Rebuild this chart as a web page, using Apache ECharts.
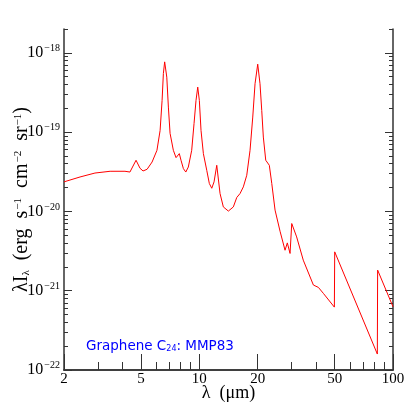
<!DOCTYPE html>
<html>
<head>
<meta charset="utf-8">
<script src="https://cdn.jsdelivr.net/npm/echarts@6/dist/echarts.min.js"></script>
<style>
	html, body { margin: 0; padding: 0; background: #fff; }
	#chart { width: 415px; height: 415px; }
</style>
</head>
<body>
<div id="chart"></div>
<script>
// wavelength (um) and lambda*I_lambda (erg s-1 cm-2 sr-1)
const wavelength = [2.0, 2.42, 2.89, 3.46, 4.13, 4.38, 4.71, 4.94, 5.12, 5.37, 5.70, 6.04, 6.27, 6.42, 6.52, 6.62, 6.79, 6.92, 7.06, 7.34,
	7.58, 7.70, 7.88, 8.04, 8.27, 8.51, 8.77, 9.13, 9.39, 9.61, 9.81, 10.0, 10.2, 10.49, 10.92, 11.26, 11.59, 11.91, 12.30, 12.79,
	13.30, 14.12, 14.98, 15.60, 16.22, 16.87, 17.57, 18.27, 18.87, 19.39, 20.02, 20.57, 21.0, 21.4, 22.02, 22.44, 22.98, 23.66, 24.6, 26.1,
	27.7, 28.46, 29.4, 30.0, 31.8, 34.4, 38.8, 41.2, 43.7, 49.8, 50.0, 83.0, 83.3, 100];
const flux = [2.36e-20, 2.72e-20, 3.05e-20, 3.21e-20, 3.21e-20, 3.14e-20, 4.42e-20, 3.50e-20, 3.24e-20, 3.40e-20, 4.20e-20, 5.90e-20, 1.05e-19, 2.51e-19, 5.5e-19, 7.7e-19, 4.94e-19, 2.07e-19, 9.66e-20, 5.90e-20,
	4.77e-20, 4.96e-20, 5.36e-20, 4.42e-20, 3.47e-20, 3.14e-20, 3.63e-20, 5.90e-20, 1.29e-19, 2.51e-19, 3.70e-19, 2.51e-19, 1.05e-19, 5.36e-20, 3.30e-20, 2.25e-20, 1.96e-20, 2.36e-20, 3.82e-20, 1.68e-20,
	1.14e-20, 1.01e-20, 1.14e-20, 1.50e-20, 1.68e-20, 2.04e-20, 2.86e-20, 5.90e-20, 1.55e-19, 4.08e-19, 7.2e-19, 4.08e-19, 1.88e-19, 8.67e-20, 4.42e-20, 4.6e-20, 3.82e-20, 2.25e-20, 1.04e-20, 5.63e-21,
	3.24e-21, 4.01e-21, 2.95e-21, 7.04e-21, 4.77e-21, 2.43e-21, 1.18e-21, 1.10e-21, 9.25e-22, 6.21e-22, 3.09e-21, 1.59e-22, 1.82e-21, 6.27e-22];

const xLabels = [2, 5, 10, 20, 50, 100];
const xMinor = [2, 3, 4, 5, 6, 7, 8, 9, 10, 20, 30, 40, 50, 60, 70, 80, 90, 100];
const yLabels = [1e-22, 1e-21, 1e-20, 1e-19, 1e-18];
const yMinor = [];
[-22, -21, -20, -19, -18].forEach(function (e) {
	for (let m = 1; m <= 9; m++) {
		let v = m * Math.pow(10, e);
		if (v <= 2e-18) yMinor.push(v);
	}
});

const serif = "Liberation Serif";
const axisColor = "#333";

// frame line (+ optional labels), no ticks
function frameAxis(pos, min, max, label) {
	return {
		type: "log",
		position: pos,
		min: min,
		max: max,
		axisLine: { show: true, lineStyle: { color: axisColor, width: 1.5 } },
		axisTick: { show: false },
		axisLabel: label || { show: false },
		splitLine: { show: false }
	};
}
// tick-only axis, shifted into the plot so outward ticks end on the frame
function tickAxis(pos, min, max, ticks, len) {
	return {
		type: "log",
		position: pos,
		offset: -len,
		min: min,
		max: max,
		axisLine: { show: false },
		axisTick: { show: true, inside: false, length: len, customValues: ticks, lineStyle: { color: axisColor, width: 1 } },
		axisLabel: { show: false },
		splitLine: { show: false }
	};
}

const xLabelStyle = { show: true, customValues: xLabels, color: "#000", fontFamily: serif, fontSize: 15, margin: 2 };
const yLabelStyle = {
	show: true,
	customValues: yLabels,
	margin: 4,
	formatter: function (v) {
		return "{b|10}{s|\u2212" + Math.abs(Math.round(Math.log10(v))) + "}";
	},
	rich: {
		b: { fontFamily: serif, fontSize: 16, color: "#000" },
		s: { fontFamily: serif, fontSize: 10, color: "#000", padding: [0, 0, 9, 1] }
	}
};

const chart = echarts.init(document.getElementById("chart"));
const option = {
	animation: false,
	backgroundColor: "#fff",
	title: {
		text: "{t|Graphene C}{sub|24}{t|: MMP83}",
		left: 81,
		top: 334,
		textStyle: {
			rich: {
				t: { fontFamily: "DejaVu Sans", fontSize: 13.5, fontWeight: "normal", color: "#0000ff" },
				sub: { fontFamily: "DejaVu Sans", fontSize: 8, fontWeight: "normal", color: "#0000ff", padding: [6, 0, 0, 0] }
			}
		}
	},
	grid: { left: 64, right: 22, top: 29, bottom: 45, outerBoundsMode: "none" },
	xAxis: [
		Object.assign(frameAxis("bottom", 2, 100, xLabelStyle), {
			name: "\u03bb  (\u03bcm)",
			nameLocation: "middle",
			nameGap: 14,
			nameMoveOverlap: false,
			nameTextStyle: { fontFamily: serif, fontSize: 18, color: "#000" }
		}),
		tickAxis("bottom", 2, 100, xLabels, 8),
		tickAxis("bottom", 2, 100, xMinor, 4),
		frameAxis("top", 2, 100, null),
		tickAxis("top", 2, 100, xLabels, 8),
		tickAxis("top", 2, 100, xMinor, 4)
	],
	yAxis: [
		Object.assign(frameAxis("left", 1e-22, 2e-18, yLabelStyle), {
			name: "{n|\u03bbI}{sb|\u03bb}{n|  (erg  s}{sp|\u22121}{n|  cm}{sp|\u22122}{n|  sr}{sp|\u22121}{n|)}",
			nameLocation: "middle",
			nameGap: 32,
			nameMoveOverlap: false,
			nameTextStyle: {
				rich: {
					n: { fontFamily: serif, fontSize: 20, color: "#000" },
					sb: { fontFamily: serif, fontSize: 11, color: "#000", padding: [8, 0, 0, 0] },
					sp: { fontFamily: serif, fontSize: 11, color: "#000", padding: [0, 0, 8, 1] }
				}
			}
		}),
		tickAxis("left", 1e-22, 2e-18, yLabels, 8),
		tickAxis("left", 1e-22, 2e-18, yMinor, 4),
		frameAxis("right", 1e-22, 2e-18, null),
		tickAxis("right", 1e-22, 2e-18, yLabels, 8),
		tickAxis("right", 1e-22, 2e-18, yMinor, 4)
	],
	series: [
		{
			type: "line",
			xAxisIndex: 0,
			yAxisIndex: 0,
			showSymbol: false,
			smooth: false,
			lineStyle: { color: "#ff0000", width: 1 },
			data: wavelength.map(function (w, i) { return [w, flux[i]]; })
		}
	]
};
chart.setOption(option);
</script>
</body>
</html>
